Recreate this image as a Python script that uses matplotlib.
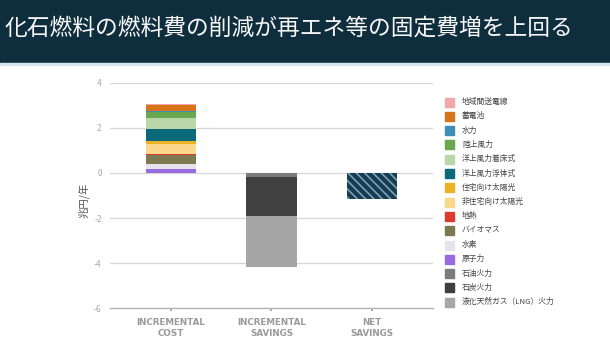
import matplotlib
matplotlib.use('Agg')
import matplotlib.pyplot as plt
from matplotlib.patches import Rectangle

plt.rcParams['font.family'] = ['Noto Sans CJK JP', 'DejaVu Sans']
plt.rcParams['hatch.linewidth'] = 1.2

# data (兆円/年)
title = '化石燃料の燃料費の削減が再エネ等の固定費増を上回る'
categories = ['INCREMENTAL\nCOST', 'INCREMENTAL\nSAVINGS', 'NET\nSAVINGS']

cost_labels = ['地域間送電線', '蓄電池', '水力', '陸上風力', '洋上風力着床式', '洋上風力浮体式',
               '住宅向け太陽光', '非住宅向け太陽光', '地熱', 'バイオマス', '水素', '原子力']
cost_values = [0.02, 0.30, 0.01, 0.27, 0.50, 0.53, 0.13, 0.44, 0.07, 0.37, 0.22, 0.19]
cost_colors = ['#f2a7a9', '#d6741c', '#3e8fb6', '#6aa84f', '#b9d7a8', '#0b6a7a',
               '#eab224', '#fbd88c', '#dc3b2f', '#7c7953', '#e6e3ec', '#9a6be0']

saving_labels = ['石油火力', '石炭火力', '液化天然ガス（LNG）火力']
saving_values = [-0.19, -1.70, -2.29]
saving_colors = ['#7c7c7c', '#404040', '#a6a6a6']

net_value = -1.14

fig = plt.figure(figsize=(6.1, 3.42), dpi=100)

# title band
fig.add_artist(Rectangle((0, 1 - 63 / 342), 1, 63 / 342, transform=fig.transFigure,
                         color='#0f2e3d', zorder=0))
fig.add_artist(Rectangle((0, 1 - 65 / 342), 1, 2 / 342, transform=fig.transFigure,
                         color='#d5e6ec', zorder=0))
fig.text(0.008, 1 - 28 / 342, title, color='#f7f7f7', fontsize=16.4,
         va='center', ha='left')

ax = fig.add_axes([0.1803, 0.0985, 0.5295, 0.6597])
w = 0.507

# incremental cost: stack from bottom (last legend item) upward
bottom = 0
for v, c in zip(reversed(cost_values), reversed(cost_colors)):
    ax.bar(0, v, w, bottom=bottom, color=c, zorder=3)
    bottom += v

# incremental savings: stack downward
bottom = 0
for v, c in zip(saving_values, saving_colors):
    ax.bar(1, v, w, bottom=bottom, color=c, zorder=3)
    bottom += v

ax.bar(2, net_value, w, color='#1b3a4d', edgecolor='#6ea6c2', hatch='\\\\\\\\',
       linewidth=0, zorder=3)

ax.set_xlim(-0.607, 2.607)
ax.set_ylim(-6, 4)
ax.set_yticks([-6, -4, -2, 0, 2, 4])
ax.set_yticklabels(['-6', '-4', '-2', '0', '2', '4'])
ax.grid(axis='y', color='#d6d6d6', linewidth=0.9, zorder=0)
for s in ['top', 'right', 'left']:
    ax.spines[s].set_visible(False)
ax.spines['bottom'].set_color('#b5b5b5')
ax.spines['bottom'].set_linewidth(1.0)
ax.tick_params(axis='y', length=0, pad=6, labelsize=6, labelcolor='#a8a8a8')
ax.tick_params(axis='x', length=2, width=1.2, color='#9a9a9a', pad=5)
ax.set_xticks(range(len(categories)))
ax.set_xticklabels(categories, fontsize=6.3, color='#9a9a9a', fontweight='bold',
                   family=['DejaVu Sans'], linespacing=1.3)
for t in ax.get_yticklabels():
    t.set_fontstyle('italic')
ax.set_ylabel('兆円/年', fontsize=7.5, color='#555555')
ax.yaxis.set_label_coords(-0.062, 0.48)

# legend
legend_labels = cost_labels + saving_labels
legend_colors = cost_colors + saving_colors
for i, (lab, col) in enumerate(zip(legend_labels, legend_colors)):
    yc = 1 - (102 + i * 14.3) / 342
    fig.add_artist(Rectangle((445 / 610, yc - 4.5 / 342), 9 / 610, 9 / 342,
                             transform=fig.transFigure, color=col))
    fig.text(462 / 610, yc, lab, fontsize=5.6, color='#444444', va='center', ha='left')

plt.savefig('out.png', dpi=100)
plt.close()
